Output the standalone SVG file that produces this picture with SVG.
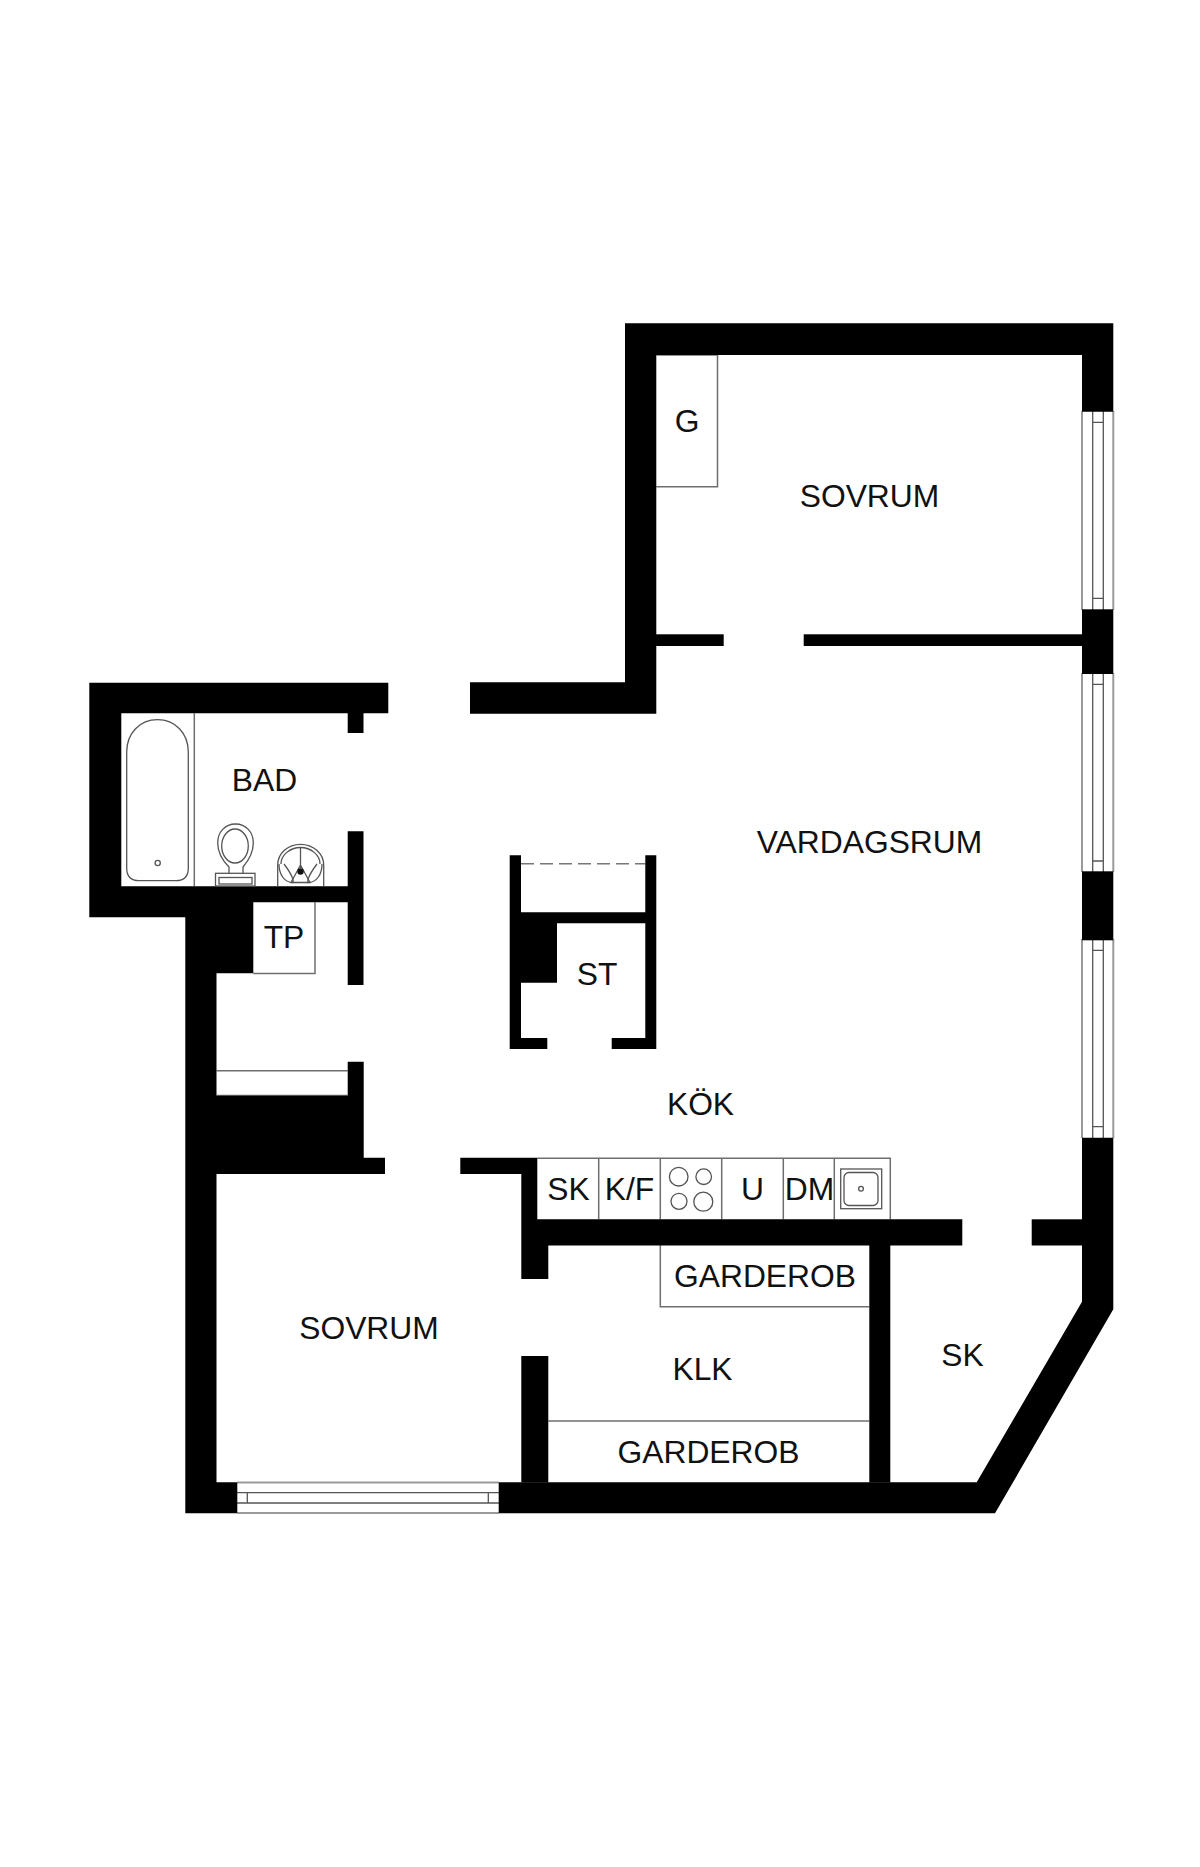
<svg xmlns="http://www.w3.org/2000/svg" width="1200" height="1867" viewBox="0 0 1200 1867">
<style>
.w{fill:#000}
.l{fill:none;stroke:#6e6e6e;stroke-width:1.5}
.g{fill:none;stroke:#9a9a9a;stroke-width:2}
.d{fill:none;stroke:#555;stroke-width:1.3}
text{font-family:"Liberation Sans",Arial,sans-serif;font-size:31.8px;fill:#111;text-anchor:middle}
</style>
<rect width="1200" height="1867" fill="#fff"/>
<g id="fixtures-lines">
<path class="l" d="M656.3 355H717.5V486.7H656.3"/>
<path class="l" d="M194.3 713.3V886.3"/>
<path class="l" d="M253.3 973.5H315V902.3"/>
<path class="l" d="M216.5 1070.7H347.7M216.5 1095.5H347.7"/>
<path class="l" d="M537.3 1158.2H890.3V1219.3M598.7 1158V1219.3M660.3 1158V1219.3M721.7 1158V1219.3M783.3 1158V1219.3M834.3 1158V1219.3"/>
<path class="l" d="M660.3 1245V1306.7H869.3"/>
<path class="l" d="M548.3 1421H869.3"/>
<path d="M521 863.7H645.3" fill="none" stroke="#777" stroke-width="1.5" stroke-dasharray="13 6"/>
</g>
<g id="windows">
<path class="g" d="M1082 411V610M1113.3 411V610M1082 673V872M1113.3 673V872M1082 939V1138M1113.3 939V1138"/>
<path class="d" d="M1092.7 411V610M1103.3 411V610M1092.7 673V872M1103.3 673V872M1092.7 939V1138M1103.3 939V1138"/>
<path class="d" d="M1092.7 422.3H1103.3M1092.7 598.3H1103.3M1092.7 684.3H1103.3M1092.7 861H1103.3M1092.7 950.3H1103.3M1092.7 1126.7H1103.3"/>
<path class="g" d="M237 1482.6H499M237 1513H499" stroke-width="1.5"/>
<path class="d" d="M237 1492.7H499M237 1503H499M247.3 1492.7V1503M488.3 1492.7V1503"/>
</g>
<g id="walls">
<path class="w" d="M89.3 682.7H388.3V713.3H363.5V733H347.7V713.3H121.3V886.3H347.7V831.3H363.5V985H347.7V902.3H253.3V973.3H216.5V1095.7H347.7V1061.7H363.7V1157.7H385V1174H216.5V1482.3H237.3V1513.3H185.3V917.3H89.3Z"/>
<path class="w" d="M625 323.3H1113.3V411.7H1082V355H656.3V713.7H470V682.3H625Z"/>
<rect class="w" x="656" y="634.3" width="67.7" height="11.7"/>
<rect class="w" x="803.7" y="634.3" width="278.3" height="11.7"/>
<rect class="w" x="1082" y="609.3" width="31.3" height="64.7"/>
<rect class="w" x="1082" y="871.3" width="31.3" height="69"/>
<path class="w" d="M1082 1137.7H1113.3V1309.3L995 1513.3H498.7V1482.3H976.7L1082 1301.7Z"/>
<rect class="w" x="1031.7" y="1219.3" width="50.5" height="26.2"/>
<rect class="w" x="521.3" y="1356" width="27" height="126.5"/>
<rect class="w" x="869.3" y="1245" width="21" height="237.5"/>
<path class="w" d="M460.3 1157.7H537.3V1219.3H962.3V1245.5H548.3V1279H521.3V1174H460.3Z"/>
<path class="w" d="M509.7 855.3H521V912.3H645.3V855.3H656.3V1049H611.7V1038H645.3V923.3H557V982.7H521V1038H547.3V1049H509.7Z"/>
</g>
<g id="bath">
<path class="d" d="M126.7 752C126.7 733 140 719.7 157.5 719.7S188.3 733 188.3 752V868C188.3 876 184 880.7 176 880.7H139C131 880.7 126.7 876 126.7 868Z"/>
<circle class="d" cx="157.7" cy="863" r="2.6"/>
</g>
<g id="toilet">
<path class="d" d="M229 873.3V867C222 860 217.7 851 217.7 843C217.7 832 225 824 235.5 824S253.3 832 253.3 843C253.3 851 249 860 243 867V873.3"/>
<ellipse class="d" cx="235" cy="846" rx="13.3" ry="17"/>
<rect class="d" x="215.5" y="873.3" width="39.5" height="12.7"/>
<rect class="d" x="219" y="877.5" width="33" height="6.5"/>
</g>
<g id="basin" stroke-width="1.6">
<path class="d" d="M277.7 886V865C277.7 853 288 844.3 300.5 844.3S323.7 853 323.7 865V886"/>
<path class="d" d="M281 864C281 855 290 847.5 300.5 847.5S320 855 320 864"/>
<path class="d" d="M279 864C279 874 284 882.5 293 882.5C294 879 290 872 284 864M322 864C322 874 317 882.5 308 882.5C307 879 311 872 317 864"/>
<path class="d" d="M300.5 847V868M300.5 865L291 882.5H310Z"/>
<circle cx="300.5" cy="871.5" r="3.2" fill="#111"/>
</g>
<g id="hob">
<circle class="d" cx="678.7" cy="1176.7" r="9.3"/>
<circle class="d" cx="703.7" cy="1176.7" r="7.8"/>
<circle class="d" cx="679" cy="1201.3" r="8"/>
<circle class="d" cx="703.3" cy="1201.7" r="9.5"/>
</g>
<g id="sink">
<rect class="d" x="840.7" y="1169" width="41" height="39.7"/>
<rect class="d" x="844" y="1172.5" width="34" height="33" rx="5"/>
<circle class="d" cx="861" cy="1188.7" r="2.4"/>
</g>
<g id="labels">
<text x="687" y="432">G</text>
<text x="869.5" y="506.5">SOVRUM</text>
<text x="264.5" y="791">BAD</text>
<text x="869.5" y="853">VARDAGSRUM</text>
<text x="284" y="948">TP</text>
<text x="597" y="985">ST</text>
<text x="700.5" y="1115">KÖK</text>
<text x="568.5" y="1200">SK</text>
<text x="629.5" y="1200">K/F</text>
<text x="752.5" y="1200">U</text>
<text x="809.5" y="1200">DM</text>
<text x="765" y="1287">GARDEROB</text>
<text x="369" y="1339">SOVRUM</text>
<text x="702.5" y="1380">KLK</text>
<text x="962.5" y="1365.5">SK</text>
<text x="708.5" y="1463">GARDEROB</text>
</g>
</svg>
